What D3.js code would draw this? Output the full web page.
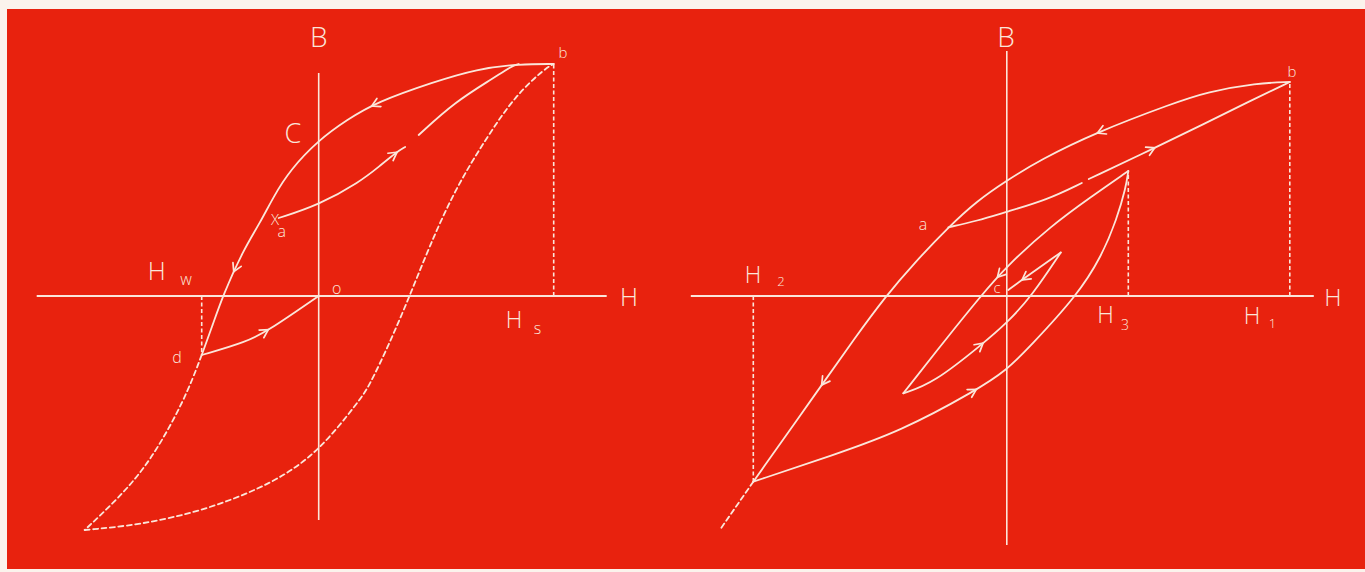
<!DOCTYPE html>
<html>
<head>
<meta charset="utf-8">
<script src="https://cdn.jsdelivr.net/npm/d3@7"></script>
<style>
  html, body { margin: 0; padding: 0; background: #fbf3ec; overflow: hidden; }
  text { font-family: "Open Sans", "Lato", "DejaVu Sans", sans-serif; font-weight: 300; fill: #fbe6da; }
</style>
</head>
<body>
<svg id="chart" width="1365" height="572"></svg>
<script>
// ---- Left diagram: saturation loop with a demagnetising branch (H, B in arbitrary units)
const leftMajorDown   = [[2.35,2.32],[2.01,2.32],[1.58,2.27],[1.15,2.14],[0.58,1.94],[0.28,1.76],[0,1.56],[-0.287,1.26],[-0.454,0.99],[-0.587,0.73],[-0.754,0.46],[-0.96,0],[-1.06,-0.29],[-1.17,-0.59]];
const leftDashedDown  = [[-1.17,-0.59],[-1.34,-1.04],[-1.69,-1.67],[-2.02,-2.04],[-2.34,-2.34]];
const leftDashedUp    = [[-2.34,-2.34],[-1.79,-2.29],[-1.12,-2.14],[-0.45,-1.87],[0,-1.56],[0.41,-1.04],[0.50,-0.91],[0.71,-0.47],[0.91,0],[1.10,0.48],[1.36,1.06],[1.67,1.57],[1.97,2.01],[2.27,2.28],[2.35,2.32]];
const leftInitial     = [[-1.17,-0.59],[-0.72,-0.46],[-0.50,-0.34],[-0.22,-0.15],[0,0]];
const leftMinorUpA    = [[-0.40,0.78],[0,0.91],[0.41,1.14],[0.61,1.30],[0.78,1.44],[0.865,1.49]];
const leftMinorUpB    = [[1.00,1.61],[1.36,1.94],[1.75,2.18],[1.93,2.30],[2.0,2.32]];
const leftHAxis = [-2.82, 2.88];
const leftBAxis = [-2.24, 2.23];
const leftHs = [2.35, 2.32];     // H_s and B at b
const leftHw = [-1.17, -0.59];   // H_w and B at d
const leftArrows = [[0.51,1.94],[-0.887,0.26],[-0.50,-0.34],[0.78,1.44]];

// ---- Right diagram: loop between H1 and H2 with minor loops
const rightMajorDown  = [[2.83,2.14],[2.50,2.13],[2.00,2.04],[1.67,1.93],[0.90,1.64],[0.33,1.36],[0,1.155],[-0.30,0.95],[-0.585,0.687],[-0.925,0.33],[-1.21,0],[-1.535,-0.44],[-1.85,-0.89],[-2.535,-1.857]];
const rightDashedDown = [[-2.535,-1.857],[-2.87,-2.34]];
const rightLowerUp    = [[-2.535,-1.857],[-1.735,-1.59],[-1.07,-1.357],[-0.30,-0.94],[0,-0.74],[0.23,-0.507],[0.70,0],[0.95,0.40],[1.10,0.77],[1.19,1.08],[1.215,1.25]];
const rightInnerUpA   = [[-0.585,0.687],[-0.30,0.75],[0,0.843],[0.40,0.96],[0.75,1.13]];
const rightInnerUpB   = [[0.82,1.17],[1.48,1.48],[1.97,1.72],[2.41,1.94],[2.83,2.14]];
const rightH3Down     = [[1.215,1.25],[0.84,0.99],[0.44,0.70],[0,0.30],[-0.26,0],[-0.60,-0.42],[-1.035,-0.973]];
const rightMiddleUp   = [[-1.035,-0.973],[-0.735,-0.873],[-0.235,-0.473],[0,-0.27],[0.25,0],[0.54,0.435]];
const rightSmallDown  = [[0.54,0.435],[0.15,0.16],[0.015,0.06]];
const rightHAxis = [-3.16, 3.07];
const rightBAxis = [-2.49, 2.45];
const rightH1 = [2.83, 2.14];
const rightH3 = [1.215, 1.25];
const rightH2 = [-2.535, -1.857];
const rightArrows = [[0.90,1.643],[-1.85,-0.89],[-0.30,-0.94],[1.48,1.48],[-0.12,0.21],[-0.235,-0.473],[0.15,0.16]];

// ---- Layout
const W = 1365, H = 572;
const INK = "#fbe6da";
const svg = d3.select("#chart");

svg.append("rect").attr("x", 7).attr("y", 9).attr("width", W - 7).attr("height", 560)
  .attr("fill", "#e8220e");

function panel(origin) {
  const unit = 100;
  return {
    x: d3.scaleLinear().domain([0, 1]).range([origin[0], origin[0] + unit]),
    y: d3.scaleLinear().domain([0, 1]).range([origin[1], origin[1] - unit]),
    g: svg.append("g"),
    ox: origin[0], oy: origin[1]
  };
}

// Hand-drawn branches: a B-spline through the sampled points keeps them smooth
function drawCurve(p, pts, dashed) {
  const line = d3.line().x(d => p.x(d[0])).y(d => p.y(d[1])).curve(d3.curveBasis);
  return p.g.append("path").attr("d", line(pts))
    .attr("fill", "none").attr("stroke", INK).attr("stroke-width", 1.8)
    .attr("stroke-linecap", "round")
    .attr("stroke-dasharray", dashed ? "5,3.5" : null);
}

function drawAxes(p, hExt, bExt) {
  p.g.append("line").attr("x1", p.x(hExt[0])).attr("x2", p.x(hExt[1]))
    .attr("y1", p.y(0)).attr("y2", p.y(0)).attr("stroke", INK).attr("stroke-width", 1.8);
  p.g.append("line").attr("x1", p.x(0)).attr("x2", p.x(0))
    .attr("y1", p.y(bExt[1])).attr("y2", p.y(bExt[0])).attr("stroke", INK).attr("stroke-width", 1.6);
}

function drawDrop(p, pt) {
  p.g.append("line").attr("x1", p.x(pt[0])).attr("x2", p.x(pt[0]))
    .attr("y1", p.y(0)).attr("y2", p.y(pt[1]))
    .attr("stroke", INK).attr("stroke-width", 1.6).attr("stroke-dasharray", "4,2.5");
}

// Open chevron placed on the nearest point of a path, aimed along its direction of travel
function drawArrow(p, paths, at) {
  const tx = p.x(at[0]), ty = p.y(at[1]);
  let best = null;
  paths.forEach(el => {
    const node = el.node(), len = node.getTotalLength();
    for (let l = 0; l <= len; l += 0.5) {
      const q = node.getPointAtLength(l);
      const dd = (q.x - tx) ** 2 + (q.y - ty) ** 2;
      if (!best || dd < best.dd) best = { dd, node, l, len };
    }
  });
  const a = best.node.getPointAtLength(Math.max(0, best.l - 2));
  const b = best.node.getPointAtLength(Math.min(best.len, best.l + 2));
  const c = best.node.getPointAtLength(best.l);
  const ang = Math.atan2(b.y - a.y, b.x - a.x) * 180 / Math.PI;
  p.g.append("path").attr("d", "M-8,-4.5L0,0L-8,4.5")
    .attr("transform", `translate(${c.x},${c.y}) rotate(${ang})`)
    .attr("fill", "none").attr("stroke", INK).attr("stroke-width", 1.7)
    .attr("stroke-linejoin", "miter").attr("stroke-linecap", "round");
}

function label(p, txt, dx, dy, size) {
  p.g.append("text").attr("x", p.ox + dx).attr("y", p.oy + dy)
    .attr("text-anchor", "middle").attr("font-size", size).text(txt);
}

// ---- Left diagram
const L = panel([318.7, 296]);
drawAxes(L, leftHAxis, leftBAxis);
drawDrop(L, leftHs);
drawDrop(L, leftHw);
const lp = [
  drawCurve(L, leftMajorDown, false),
  drawCurve(L, leftInitial, false),
  drawCurve(L, leftMinorUpA, false),
  drawCurve(L, leftMinorUpB, false)
];
drawCurve(L, leftDashedDown, true);
drawCurve(L, leftDashedUp, true);
leftArrows.forEach(a => drawArrow(L, lp, a));

label(L, "B", 0, -249, 28);
label(L, "C", -25.7, -153, 27);
label(L, "H", 310.3, 10, 25);
label(L, "H", -162, -16, 25);
label(L, "w", -132.7, -11, 16);
label(L, "H", 195.3, 32, 23);
label(L, "s", 218.9, 38, 16);
label(L, "o", 18, -2, 16);
label(L, "b", 244.3, -238, 15);
label(L, "d", -141.7, 67, 16);
label(L, "X", -43.7, -71, 15);
label(L, "a", -37, -59, 16);

// ---- Right diagram
const R = panel([1006.8, 296]);
drawAxes(R, rightHAxis, rightBAxis);
drawDrop(R, rightH1);
drawDrop(R, rightH3);
drawDrop(R, rightH2);
const rp = [
  drawCurve(R, rightMajorDown, false),
  drawCurve(R, rightLowerUp, false),
  drawCurve(R, rightInnerUpA, false),
  drawCurve(R, rightInnerUpB, false),
  drawCurve(R, rightH3Down, false),
  drawCurve(R, rightMiddleUp, false),
  drawCurve(R, rightSmallDown, false)
];
drawCurve(R, rightDashedDown, true);
rightArrows.forEach(a => drawArrow(R, rp, a));

label(R, "B", -0.8, -249, 28);
label(R, "H", 326.2, 10, 24);
label(R, "b", 285.2, -219.5, 15);
label(R, "a", -83.8, -66, 16);
label(R, "c", -9.8, -3, 15);
label(R, "H", 98.7, 27, 23);
label(R, "3", 118.2, 34, 14);
label(R, "H", 245.2, 28, 23);
label(R, "1", 265.7, 32, 13);
label(R, "H", -253.8, -13.4, 23);
label(R, "2", -225.8, -10, 13);
</script>
</body>
</html>
